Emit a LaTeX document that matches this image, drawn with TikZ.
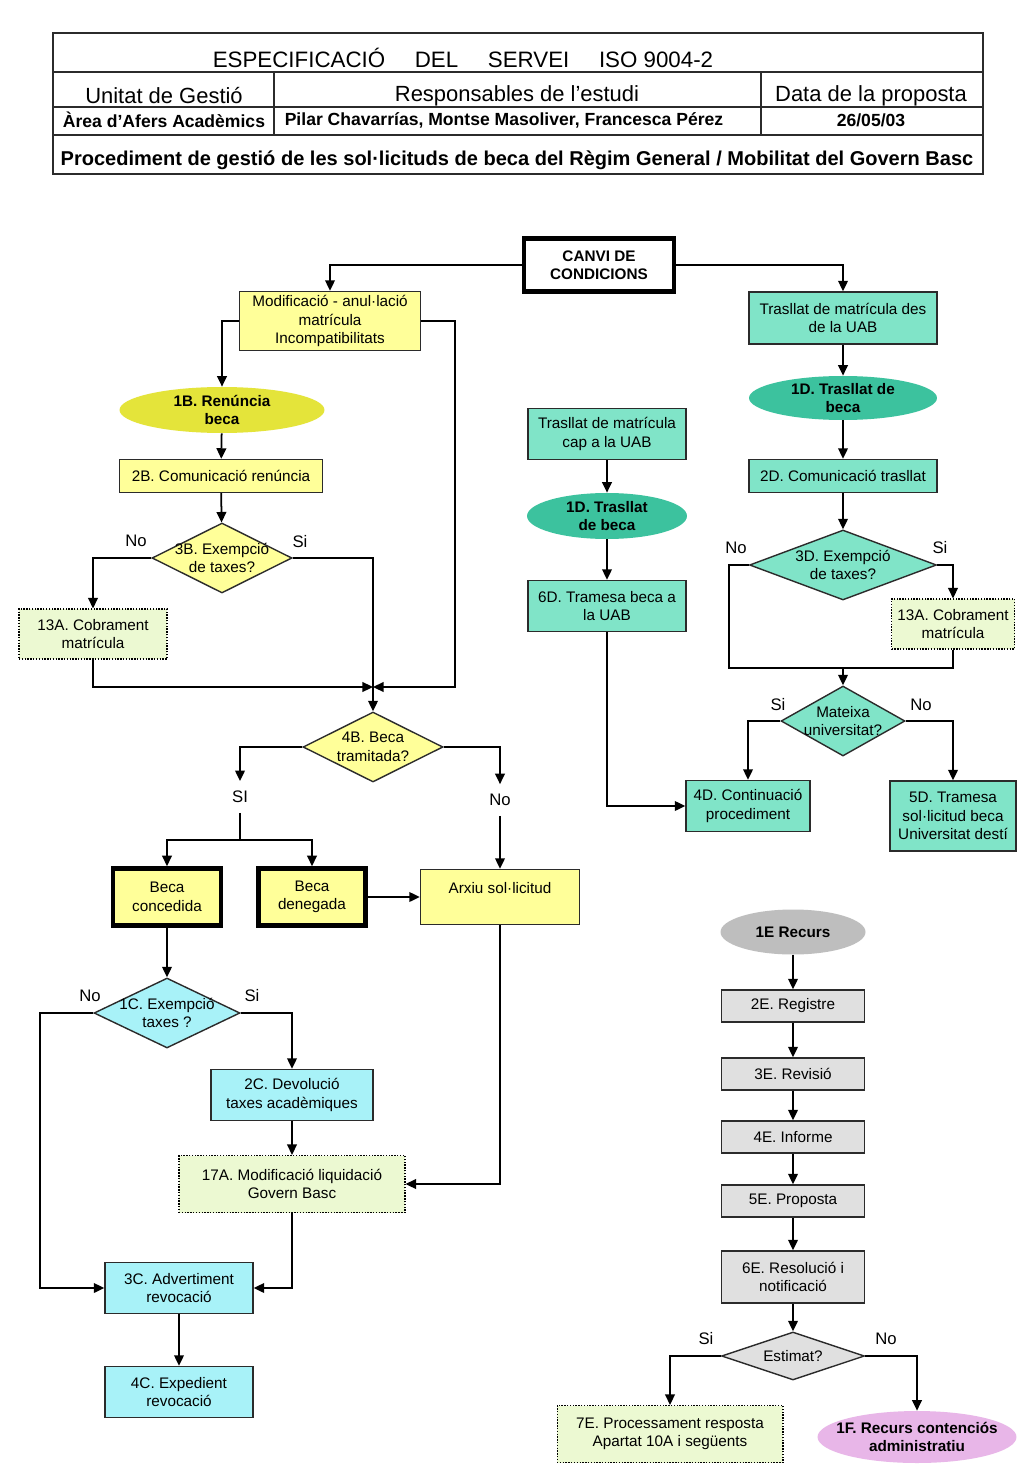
\documentclass[tikz,border=0pt]{standalone}
\usepackage{fontspec}
\setmainfont{Liberation Sans}
\usetikzlibrary{shapes.geometric,arrows.meta}
\definecolor{edge}{HTML}{2B2B2B}
\definecolor{yel}{HTML}{FFFF99}
\definecolor{yelx}{HTML}{E4E43A}
\definecolor{tea}{HTML}{80E4C8}
\definecolor{teax}{HTML}{3CC29E}
\definecolor{cya}{HTML}{A8F2F8}
\definecolor{lgr}{HTML}{ECF9D2}
\definecolor{gra}{HTML}{E0E0E0}
\definecolor{grax}{HTML}{BEBEBE}
\definecolor{pin}{HTML}{E8B6E8}
\newcommand\boxfont{\fontsize{8.7}{10.5}\selectfont}
\newcommand\labfont{\fontsize{9.5}{11}\selectfont}
\tikzset{
  box/.style={draw=edge, line width=0.8pt, align=center, font=\boxfont, inner sep=1pt},
  tbox/.style={box, draw=black, line width=2.6pt},
  dbox/.style={box, fill=lgr, draw=black, line width=0.6pt, dash pattern=on 0.8pt off 0.8pt},
  ell/.style={ellipse, align=center, font=\boxfont\bfseries, inner xsep=-7pt, inner ysep=-2pt},
  dia/.style={diamond, draw=edge, line width=0.8pt, inner sep=0pt},
  dtxt/.style={align=center, font=\boxfont},
  arr/.style={line width=1pt, -{Triangle[length=6pt,width=5.5pt]}},
  link/.style={line width=1pt},
  lab/.style={font=\labfont, inner sep=1pt},
  gap/.style={lab, inner ysep=5.5pt},
  frame/.style={draw=edge, line width=1.4pt},
  rule/.style={draw=edge, line width=0.8pt},
  htitle/.style={font=\fontsize{12.7}{14}\selectfont},
  hcap/.style={font=\fontsize{12.5}{14}\selectfont},
  hval/.style={font=\fontsize{10}{12}\selectfont\bfseries},
  hbig/.style={font=\fontsize{11.4}{13}\selectfont\bfseries},
}
\newcommand\hgap{\hspace{1.33em}}
\begin{document}
\begin{tikzpicture}[x=0.02cm,y=-0.02cm]
  \useasboundingbox[fill=white] (0,0) rectangle (1024,1479);
  % capçalera
  \draw[frame] (53,33) rectangle (983,174);
  \draw[frame] (53,72) -- (983,72) (53,135) -- (983,135);
  \draw[rule] (53,107) -- (983,107) (274,72) -- (274,135) (761,72) -- (761,135);
  \node[htitle] (tit) at (463,58) {ESPECIFICACIÓ\hgap DEL\hgap SERVEI\hgap ISO 9004-2};
  \node[hcap] (ug) at (164,96) {Unitat de Gestió};
  \node[hcap] (re) at (517,96) {Responsables de l’estudi};
  \node[hcap] (dp) at (871,96) {Data de la proposta};
  \node[hval] (ua) at (164,120) {Àrea d’Afers Acadèmics};
  \node[hval] (rn) at (504,120) {Pilar Chavarrías, Montse Masoliver, Francesca Pérez};
  \node[hval] (dt) at (871,120) {26/05/03};
  \node[hbig] (pr) at (517,160) {Procediment de gestió de les sol·licituds de beca del Règim General / Mobilitat del Govern Basc};

  % branca B
  \node[tbox, fill=white, font=\boxfont\bfseries, minimum width=3.0cm, minimum height=1.06cm] (canvi) at (599,265) {CANVI DE\\CONDICIONS};
  \node[box, fill=yel, minimum width=3.62cm, minimum height=1.18cm] (modif) at (330,321) {Modificació - anul·lació\\matrícula\\Incompatibilitats};
  \node[ell, fill=yelx, minimum width=4.1cm, minimum height=0.92cm] (b1) at (222,410) {1B. Renúncia\\beca};
  \node[box, fill=yel, minimum width=4.06cm, minimum height=0.66cm] (b2) at (221,476) {2B. Comunicació renúncia};
  \node[dia, fill=yel, minimum width=2.8cm, minimum height=1.4cm, label={[dtxt]center:3B. Exempció\\de taxes?}] (b3) at (222,558) {};
  \node[lab] (no3b) at (136,541) {No};
  \node[lab] (si3b) at (300,542) {Si};
  \node[dbox, minimum width=2.96cm, minimum height=1.0cm] (a13l) at (93,634) {13A. Cobrament\\matrícula};
  \node[dia, fill=yel, minimum width=2.8cm, minimum height=1.4cm, label={[dtxt]center:4B. Beca\\tramitada?}] (b4) at (373,747) {};
  \node[gap] (si4) at (240,797) {SI};
  \node[gap] (no4) at (500,800) {No};
  \node[tbox, fill=yel, minimum width=2.16cm, minimum height=1.14cm] (bc) at (167,897) {Beca\\concedida};
  \node[tbox, fill=yel, minimum width=2.14cm, minimum height=1.14cm] (bd) at (312,897) {Beca\\denegada};
  \node[box, fill=yel, minimum width=3.18cm, minimum height=1.1cm] (arx) at (500,897) {Arxiu sol·licitud\\ \mbox{}};

  % branca C
  \node[dia, fill=cya, minimum width=2.92cm, minimum height=1.4cm, label={[dtxt]center:1C. Exempció\\taxes ?}] (c1) at (167,1013) {};
  \node[lab] (no1c) at (90,996) {No};
  \node[lab] (si1c) at (252,996) {Si};
  \node[box, fill=cya, minimum width=3.24cm, minimum height=1.02cm] (c2) at (292,1095) {2C. Devolució\\taxes acadèmiques};
  \node[dbox, minimum width=4.52cm, minimum height=1.14cm] (a17) at (292,1184) {17A. Modificació liquidació\\Govern Basc};
  \node[box, fill=cya, minimum width=2.96cm, minimum height=1.02cm] (c3) at (179,1288) {3C. Advertiment\\revocació};
  \node[box, fill=cya, minimum width=2.96cm, minimum height=1.02cm] (c4) at (179,1392) {4C. Expedient\\revocació};

  % branca D
  \node[box, fill=tea, minimum width=3.16cm, minimum height=1.02cm] (cap) at (607,434) {Trasllat de matrícula\\cap a la UAB};
  \node[ell, fill=teax, minimum width=3.2cm, minimum height=0.92cm] (d1a) at (607,516) {1D. Trasllat\\de beca};
  \node[box, fill=tea, minimum width=3.16cm, minimum height=1.02cm] (d6) at (607,606) {6D. Tramesa beca a\\la UAB};
  \node[box, fill=tea, minimum width=3.76cm, minimum height=1.04cm] (des) at (843,318) {Trasllat de matrícula des\\de la UAB};
  \node[ell, fill=teax, minimum width=3.76cm, minimum height=0.88cm] (d1b) at (843,398) {1D. Trasllat de\\beca};
  \node[box, fill=tea, minimum width=3.76cm, minimum height=0.66cm] (d2) at (843,476) {2D. Comunicació trasllat};
  \node[dia, fill=tea, minimum width=3.74cm, minimum height=1.4cm, label={[dtxt]center:3D. Exempció\\de taxes?}] (d3) at (843,565) {};
  \node[lab] (no3d) at (736,548) {No};
  \node[lab] (si3d) at (940,548) {Si};
  \node[dbox, minimum width=2.46cm, minimum height=1.0cm] (a13r) at (953,624) {13A. Cobrament\\matrícula};
  \node[dia, fill=tea, minimum width=2.48cm, minimum height=1.4cm, label={[dtxt]center:Mateixa\\universitat?}] (mat) at (843,721) {};
  \node[lab] (simat) at (778,705) {Si};
  \node[lab] (nomat) at (921,705) {No};
  \node[box, fill=tea, minimum width=2.48cm, minimum height=1.02cm] (d4) at (748,806) {4D. Continuació\\procediment};
  \node[box, fill=tea, minimum width=2.52cm, minimum height=1.4cm] (d5) at (953,816) {5D. Tramesa\\sol·licitud beca\\Universitat destí};

  % branca E
  \node[ell, fill=grax, minimum width=2.9cm, minimum height=0.9cm] (e1) at (793,932) {1E Recurs};
  \node[box, fill=gra, minimum width=2.86cm, minimum height=0.64cm] (e2) at (793,1006) {2E. Registre};
  \node[box, fill=gra, minimum width=2.86cm, minimum height=0.64cm] (e3) at (793,1074) {3E. Revisió};
  \node[box, fill=gra, minimum width=2.86cm, minimum height=0.64cm] (e4) at (793,1137) {4E. Informe};
  \node[box, fill=gra, minimum width=2.86cm, minimum height=0.64cm] (e5) at (793,1201) {5E. Proposta};
  \node[box, fill=gra, minimum width=2.86cm, minimum height=1.04cm] (e6) at (793,1277) {6E. Resolució i\\notificació};
  \node[dia, fill=gra, minimum width=2.86cm, minimum height=0.96cm, label={[dtxt]center:Estimat?}] (est) at (793,1356) {};
  \node[lab] (siest) at (706,1339) {Si};
  \node[lab] (noest) at (886,1339) {No};
  \node[dbox, minimum width=4.52cm, minimum height=1.14cm] (e7) at (670,1434) {7E. Processament resposta\\Apartat 10A i següents};
  \node[ell, fill=pin, minimum width=3.98cm, minimum height=1.04cm] (f1) at (917,1437) {1F. Recurs contenciós\\administratiu};

  % connexions
  \draw[arr] (canvi.west) -| (modif.north);
  \draw[arr] (canvi.east) -| (des.north);
  \draw[arr] (modif.west) -| (b1.north);
  \draw[arr] (b1) -- (b2);
  \draw[arr] (b2) -- (b3);
  \draw[arr] (b3.west) -| (a13l.north);
  \coordinate (mj) at (373,687);
  \draw[arr] (a13l.south) |- (mj);
  \draw[arr] (modif.east) -- ++(34,0) |- (mj);
  \draw[arr] (b3.east) -| (b4.north);
  \draw[arr] (b4.west) -| (si4.north);
  \draw[arr] (b4.east) -| (no4.north);
  \coordinate (sj) at (240,840);
  \draw[link] (si4.south) -- (sj);
  \draw[arr] (sj) -| (bc.north);
  \draw[arr] (sj) -| (bd.north);
  \draw[arr] (no4.south) -- (arx.north);
  \draw[arr] (bd.east) -- (arx.west);
  \draw[arr] (bc.south) -- (c1.north);
  \draw[arr] (c1.west) -- ++(-53,0) |- (c3.west);
  \draw[arr] (c1.east) -| (c2.north);
  \draw[arr] (c2.south) -- (a17.north);
  \draw[arr] (arx.south) |- (a17.east);
  \draw[arr] (a17.south) |- (c3.east);
  \draw[arr] (c3.south) -- (c4.north);

  \draw[arr] (cap) -- (d1a);
  \draw[arr] (d1a) -- (d6);
  \draw[arr] (d6.south) |- (d4.west);
  \draw[arr] (des) -- (d1b);
  \draw[arr] (d1b) -- (d2);
  \draw[arr] (d2) -- (d3);
  \draw[arr] (d3.east) -| (a13r.north);
  \coordinate (mr) at (843,668);
  \draw[link] (d3.west) -- ++(-20,0) |- (mr);
  \draw[link] (a13r.south) |- (mr);
  \draw[arr] (mr) -- (mat.north);
  \draw[arr] (mat.west) -| (d4.north);
  \draw[arr] (mat.east) -| (d5.north);

  \foreach \a/\b in {e1/e2,e2/e3,e3/e4,e4/e5,e5/e6,e6/est}
    \draw[arr] (\a) -- (\b);
  \draw[arr] (est.west) -| (e7.north);
  \draw[arr] (est.east) -| (f1.north);
\end{tikzpicture}
\end{document}
